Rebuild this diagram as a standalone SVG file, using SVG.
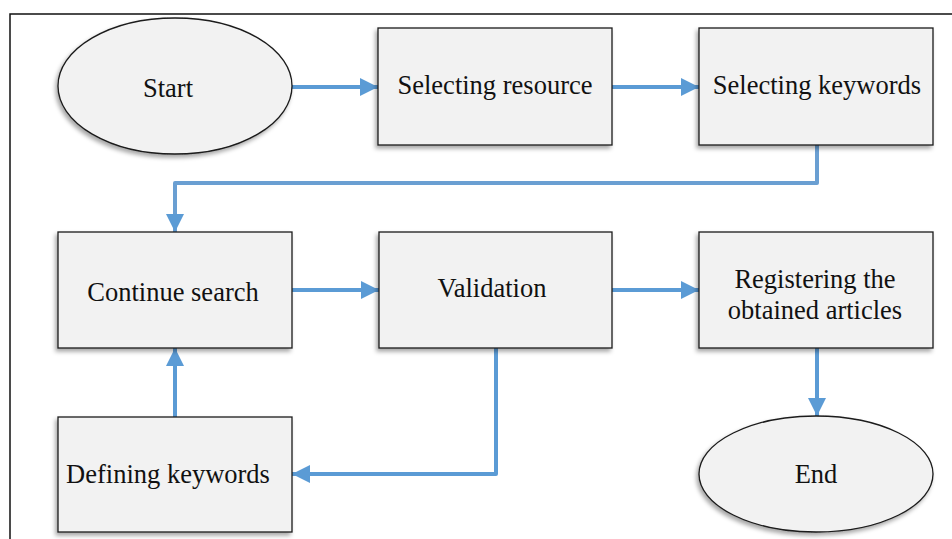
<svg xmlns="http://www.w3.org/2000/svg" width="952" height="539" viewBox="0 0 952 539">
<style>
.n{fill:#f2f2f2;stroke:#1a1a1a;stroke-width:1.3;filter:url(#sh)}
.t{font-family:"Liberation Serif","Times New Roman",serif;font-size:26.5px;fill:#111;text-anchor:middle}
.c{fill:none;stroke:#5b9bd5;stroke-width:4;stroke-linecap:round;stroke-linejoin:round}
</style>
<defs>
<filter id="sh" x="-10%" y="-10%" width="120%" height="130%">
<feDropShadow dx="-2" dy="3" stdDeviation="2" flood-color="#000" flood-opacity="0.35"/>
</filter>
<marker id="ah" viewBox="0 0 10 10" refX="10" refY="5" markerWidth="4.5" markerHeight="4.5" orient="auto" markerUnits="strokeWidth">
<path d="M0,0 L10,5 L0,10 Z" fill="#5b9bd5"/>
</marker>
</defs>
<rect width="952" height="539" fill="#fff"/>
<path d="M10,539 V14 H952" fill="none" stroke="#111" stroke-width="1.5"/>
<g id="connectors">
<path class="c" d="M292,87 H378" marker-end="url(#ah)"/>
<path class="c" d="M612,87 H699" marker-end="url(#ah)"/>
<path class="c" d="M817,145 V183 H175 V232" marker-end="url(#ah)" style="stroke:#6a9fd2"/>
<path class="c" d="M292,290 H379" marker-end="url(#ah)"/>
<path class="c" d="M612,290 H699" marker-end="url(#ah)"/>
<path class="c" d="M496,348 V474 H292" marker-end="url(#ah)"/>
<path class="c" d="M175,417 V348" marker-end="url(#ah)"/>
<path class="c" d="M817,348 V416" marker-end="url(#ah)"/>
</g>
<g id="start"><ellipse class="n" cx="175" cy="86" rx="117" ry="68"/><text class="t" x="168" y="97">Start</text></g>
<g id="selecting-resource"><rect class="n" x="378" y="28" width="234" height="117"/><text class="t" x="495" y="94">Selecting resource</text></g>
<g id="selecting-keywords"><rect class="n" x="699" y="28" width="234" height="117"/><text class="t" x="817" y="94">Selecting keywords</text></g>
<g id="continue-search"><rect class="n" x="58" y="232" width="234" height="116"/><text class="t" x="173" y="301">Continue search</text></g>
<g id="validation"><rect class="n" x="379" y="232" width="233" height="116"/><text class="t" x="492" y="297">Validation</text></g>
<g id="registering"><rect class="n" x="699" y="232" width="234" height="116"/><text class="t" x="815" y="288">Registering the</text><text class="t" x="815" y="319">obtained articles</text></g>
<g id="defining-keywords"><rect class="n" x="58" y="417" width="234" height="115"/><text class="t" x="168" y="483">Defining keywords</text></g>
<g id="end"><ellipse class="n" cx="816" cy="474" rx="117" ry="58"/><text class="t" x="816" y="483">End</text></g>
</svg>
